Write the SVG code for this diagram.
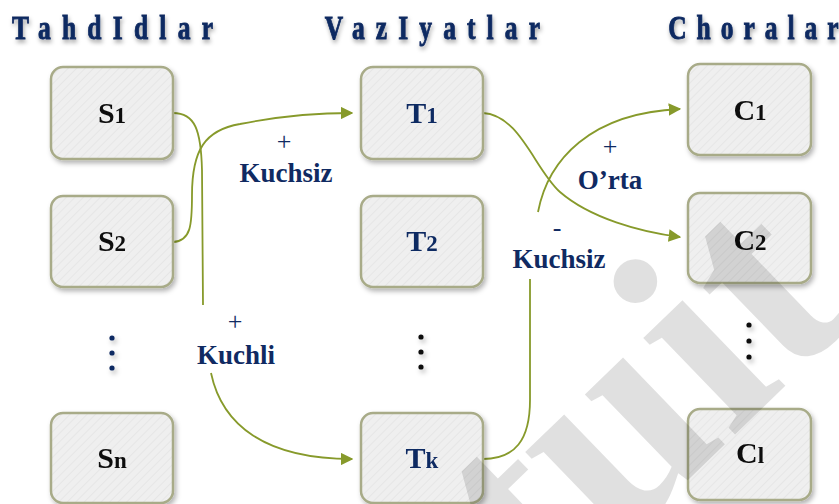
<svg xmlns="http://www.w3.org/2000/svg" width="839" height="504" viewBox="0 0 839 504">
<defs>
<style>
.box{fill:url(#hatch);stroke:#a8ab88;stroke-width:2.5}
.title{font-family:"Liberation Serif",serif;font-weight:bold;font-size:34px;fill:#0f2a62;stroke:#0f2a62;stroke-width:0.9}
.nl{font-family:"Liberation Serif",serif;font-weight:bold;font-size:30px;text-anchor:middle}
.sub{font-size:23px}
.blk{fill:#111}
.nav{fill:#102a62}
.lbl{font-family:"Liberation Serif",serif;font-weight:bold;font-size:27px;fill:#102a62;text-anchor:middle}
.pl{font-family:"Liberation Serif",serif;font-size:26px;fill:#102a62;text-anchor:middle}
.con{fill:none;stroke:#879a2b;stroke-width:1.8}
.wm{font-family:"Liberation Serif",serif;font-weight:bold;font-size:290px;fill:#000;fill-opacity:0.12}
</style>
<pattern id="hatch" width="6" height="6" patternUnits="userSpaceOnUse" patternTransform="rotate(45)">
<rect width="6" height="6" fill="#efefef"/>
<line x1="0" y1="0" x2="0" y2="6" stroke="#e4e4e4" stroke-width="1.5"/>
</pattern>
<filter id="sh" x="-20%" y="-20%" width="150%" height="150%">
<feDropShadow dx="2" dy="3" stdDeviation="2.5" flood-color="#000" flood-opacity="0.3"/>
</filter>
<filter id="tsh" x="-10%" y="-30%" width="120%" height="180%">
<feDropShadow dx="1" dy="3" stdDeviation="2" flood-color="#000" flood-opacity="0.35"/>
</filter>
<marker id="arr" viewBox="0 0 10 10" refX="9" refY="5" markerWidth="7" markerHeight="7" markerUnits="strokeWidth" orient="auto">
<path d="M0,0 L10,5 L0,10 Z" fill="#879a2b"/>
</marker>
</defs>
<rect width="839" height="504" fill="#fff"/>

<g id="titles" filter="url(#tsh)">
<text class="title" x="16" y="39" textLength="268" transform="scale(0.75,1)">TahdIdlar</text>
<text class="title" x="433" y="39" textLength="287" transform="scale(0.75,1)">VazIyatlar</text>
<text class="title" x="891" y="39" textLength="227" transform="scale(0.75,1)">Choralar</text>
</g>

<g id="connectors">
<path class="con" d="M173,113 C195,113 201,130 202,170 L203,305"/>
<path class="con" d="M211,373 C222,425 265,459 352,459" marker-end="url(#arr)"/>
<path class="con" d="M173,242 C191,241 192,225 192,195 C192,150 205,130 240,124 C275,117 310,113 352,113" marker-end="url(#arr)"/>
<path class="con" d="M483,113 C520,115 535,170 560,192 C590,218 640,232 680,237" marker-end="url(#arr)"/>
<path class="con" d="M483,459 C515,459 530,440 530,400 L530,279"/>
<path class="con" d="M538,212 C548,160 590,113 680,109" marker-end="url(#arr)"/>
</g>

<g id="S1" filter="url(#sh)"><rect class="box" x="51" y="67" width="122" height="92" rx="12"/><text class="nl blk" x="112" y="123">S<tspan class="sub">1</tspan></text></g>
<g id="S2" filter="url(#sh)"><rect class="box" x="51" y="196" width="122" height="91" rx="12"/><text class="nl blk" x="112" y="251">S<tspan class="sub">2</tspan></text></g>
<g id="Sn" filter="url(#sh)"><rect class="box" x="51" y="413" width="122" height="90" rx="12"/><text class="nl blk" x="112" y="468">S<tspan class="sub">n</tspan></text></g>
<g id="T1" filter="url(#sh)"><rect class="box" x="361" y="67" width="122" height="92" rx="12"/><text class="nl nav" x="422" y="123">T<tspan class="sub">1</tspan></text></g>
<g id="T2" filter="url(#sh)"><rect class="box" x="361" y="196" width="122" height="91" rx="12"/><text class="nl nav" x="422" y="251">T<tspan class="sub">2</tspan></text></g>
<g id="Tk" filter="url(#sh)"><rect class="box" x="361" y="413" width="122" height="90" rx="12"/><text class="nl nav" x="422" y="468">T<tspan class="sub">k</tspan></text></g>
<g id="C1" filter="url(#sh)"><rect class="box" x="688" y="64" width="123" height="91" rx="12"/><text class="nl blk" x="750" y="120">C<tspan class="sub">1</tspan></text></g>
<g id="C2" filter="url(#sh)"><rect class="box" x="688" y="193" width="123" height="90" rx="12"/><text class="nl blk" x="750" y="250">C<tspan class="sub">2</tspan></text></g>
<g id="Cl" filter="url(#sh)"><rect class="box" x="688" y="409" width="123" height="91" rx="12"/><text class="nl blk" x="750" y="463">C<tspan class="sub">l</tspan></text></g>

<g id="dots" filter="url(#sh)">
<circle cx="112" cy="338" r="2.6" fill="#102a62"/><circle cx="112" cy="353" r="2.6" fill="#102a62"/><circle cx="112" cy="368" r="2.6" fill="#102a62"/>
<circle cx="421" cy="337" r="2.6" fill="#111"/><circle cx="421" cy="352" r="2.6" fill="#111"/><circle cx="421" cy="367" r="2.6" fill="#111"/>
<circle cx="749" cy="325" r="2.6" fill="#111"/><circle cx="749" cy="341" r="2.6" fill="#111"/><circle cx="749" cy="357" r="2.6" fill="#111"/>
</g>

<g id="labels">
<text class="pl" x="284" y="150">+</text>
<text class="lbl" x="286" y="182">Kuchsiz</text>
<text class="pl" x="235" y="330">+</text>
<text class="lbl" x="236" y="364">Kuchli</text>
<text class="pl" x="610" y="155">+</text>
<text class="lbl" x="610" y="189">O’rta</text>
<text class="pl" x="557" y="236">-</text>
<text class="lbl" x="559" y="268">Kuchsiz</text>
</g>

<text class="wm" x="545" y="618" transform="rotate(-44 545 618)">tuit.</text>
</svg>
